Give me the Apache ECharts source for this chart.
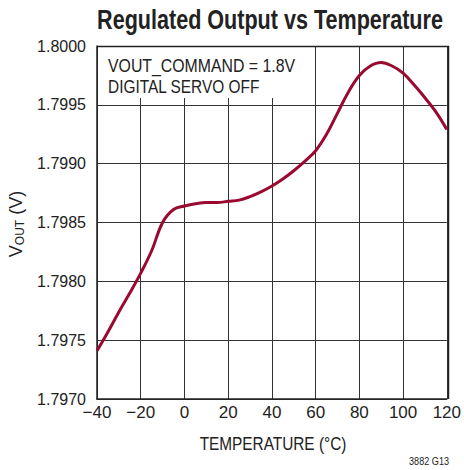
<!DOCTYPE html>
<html><head><meta charset="utf-8">
<script src="https://cdn.jsdelivr.net/npm/echarts@6/dist/echarts.min.js"></script>
<style>html,body{margin:0;padding:0;background:#fff}#c{width:464px;height:470px}</style>
</head><body><div id="c"></div>
<script>
var temperature = [-40,-35,-30,-25,-20,-15,-10,-5,0,5,10,15,20,25,30,35,40,45,50,55,60,65,70,75,80,85,90,95,100,105,110,115,120];
var vout = [1.79741,1.79757,1.79774,1.79790,1.79807,1.79826,1.79850,1.79861,1.79864,1.79866,1.79867,1.79867,1.79868,1.79869,1.79872,1.79876,1.79881,1.79887,1.79894,1.79902,1.79911,1.79925,1.79943,1.79961,1.79975,1.79983,1.79986,1.79983,1.79977,1.79967,1.79956,1.79944,1.79929];
var xTicks = {min:-40, max:120, interval:20};
var yTicks = {min:1.7970, max:1.8000, interval:0.0005};
var titleText = 'Regulated Output vs Temperature';
var noteLines = ['VOUT_COMMAND = 1.8V','DIGITAL SERVO OFF'];
var xName = 'TEMPERATURE (°C)';
var figId = '3882 G13';

var FONT = '"Liberation Sans",Arial,sans-serif';
var ctx = document.createElement('canvas').getContext('2d');
function sx(text, font, target){ ctx.font = font; return target / ctx.measureText(text).width; }
function condText(text, x, y, size, bold, target, align){
  var font = (bold?'bold ':'') + size + 'px ' + FONT;
  var s = sx(text, font, target);
  return {type:'text', z:7, x:x, y:y, scaleX:s, scaleY:1,
    style:{text:text, font:font, fill:'#222', textAlign:align||'left', verticalAlign:'middle'}};
}
var chart = echarts.init(document.getElementById('c'), null, {renderer:'svg'});
var data = temperature.map(function(t,i){return [t, vout[i]];});
chart.setOption({
  animation:false,
  grid:{left:97, right:15, top:46, bottom:71, containLabel:false},
  xAxis:{type:'value', min:xTicks.min, max:xTicks.max, interval:xTicks.interval,
    axisLine:{onZero:false, lineStyle:{color:'#222', width:1.5}}, axisTick:{show:false},
    axisLabel:{fontFamily:FONT, fontSize:17, color:'#222', margin:5,
      formatter:function(v){return v<0?'\u2212'+Math.abs(v):String(v);}},
    splitLine:{show:true, lineStyle:{color:'#333', width:1}}},
  yAxis:{type:'value', min:yTicks.min, max:yTicks.max, interval:yTicks.interval,
    axisLine:{show:true, onZero:false, lineStyle:{color:'#222', width:1.5}}, axisTick:{show:false},
    axisLabel:{fontFamily:FONT, fontSize:16, color:'#222', margin:11,
      formatter:function(v){return v.toFixed(4);}},
    splitLine:{show:true, lineStyle:{color:'#333', width:1}}},
  graphic:[
    {type:'rect', z:5, shape:{x:98, y:47, width:206, height:51}, style:{fill:'#fff'}},
    {type:'line', z:6, shape:{x1:448.5, y1:46, x2:448.5, y2:399}, style:{stroke:'#222', lineWidth:1.5}},
    {type:'line', z:6, shape:{x1:97, y1:46.5, x2:449, y2:46.5}, style:{stroke:'#222', lineWidth:1.5}},
    condText(noteLines[0], 108, 65, 19, false, 187),
    condText(noteLines[1], 108, 86, 19, false, 152),
    condText(titleText, 270, 20, 27, true, 346, 'center'),
    condText(xName, 273, 443, 19, false, 147, 'center'),
    condText(figId, 449, 461, 11, false, 40, 'right'),
    {type:'text', z:7, x:16, y:224, rotation:Math.PI/2,
      style:{text:'{a|V}{b|OUT}{a| (V)}', textAlign:'center', verticalAlign:'middle',
        rich:{a:{fontFamily:FONT, fontSize:18, fill:'#222', color:'#222'},
              b:{fontFamily:FONT, fontSize:12, fill:'#222', color:'#222', padding:[8,0,0,0]}}}}
  ],
  series:[{type:'line', data:data, smooth:0.4, symbol:'none', z:10,
    lineStyle:{color:'#9a0a30', width:3}}]
});
</script></body></html>
